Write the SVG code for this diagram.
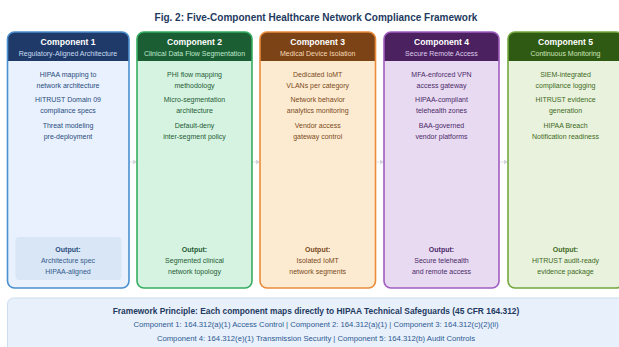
<svg xmlns="http://www.w3.org/2000/svg" width="619" height="347" viewBox="0 0 619 347">
  <defs>
    <marker id="arrow" markerWidth="6" markerHeight="6" refX="4" refY="2.5" orient="auto" markerUnits="userSpaceOnUse">
      <path d="M0,0 L4,2.5 L0,5 Z" fill="#d3d6db"/>
    </marker>
    <style>
      text { font-family: "Liberation Sans", Arial, sans-serif; text-anchor: middle; }
      .title { font-size: 10px; font-weight: bold; fill: #1e3a5f; }
      .hd { font-size: 8.6px; font-weight: bold; fill: #ffffff; }
      .sub { font-size: 7px; }
      .body { font-size: 7px; }
      .out { font-size: 7px; font-weight: bold; }
      .frame { stroke-width: 1.6; }
      .conn { stroke: #e2e4e8; stroke-width: 1; fill: none; marker-end: url(#arrow); }
      .ptitle { font-size: 8.4px; font-weight: bold; fill: #1e3a5f; }
      .pline { font-size: 7.7px; fill: #2c5a92; }
    </style>
  </defs>

  <rect width="619" height="347" fill="#ffffff"/>

  <text class="title" x="316" y="21">Fig. 2: Five-Component Healthcare Network Compliance Framework</text>

  <!-- connectors between adjacent components -->
  <g id="connectors">
    <path class="conn" d="M129,162 L137,162"/>
    <path class="conn" d="M252,162 L260,162"/>
    <path class="conn" d="M375.5,162 L384,162"/>
    <path class="conn" d="M499,162 L508,162"/>
  </g>

  <!-- Component 1 -->
  <g id="component1">
    <rect x="7.5" y="32" width="121.5" height="256" rx="7" fill="#e8f1fd"/>
    <path d="M7.5,61 V39 A7,7 0 0 1 14.5,32 H122 A7,7 0 0 1 129,39 V61 Z" fill="#1f3a68"/>
    <rect class="frame" x="7.5" y="32" width="121.5" height="256" rx="7" fill="none" stroke="#4a8fd0"/>
    <text class="hd" x="68" y="44.5">Component 1</text>
    <text class="sub" x="68" y="56" fill="#c9daf2">Regulatory-Aligned Architecture</text>
    <g fill="#2b4c7e">
      <text class="body" x="68" y="76.5">HIPAA mapping to</text>
      <text class="body" x="68" y="87.5">network architecture</text>
      <text class="body" x="68" y="102">HITRUST Domain 09</text>
      <text class="body" x="68" y="112.5">compliance specs</text>
      <text class="body" x="68" y="128">Threat modeling</text>
      <text class="body" x="68" y="138.5">pre-deployment</text>
    </g>
    <rect x="15.5" y="237" width="106" height="43" rx="4" fill="#d8e6f6"/>
    <text class="out" x="68" y="251.5" fill="#2b4c7e">Output:</text>
    <text class="body" x="68" y="263" fill="#35598a">Architecture spec</text>
    <text class="body" x="68" y="274" fill="#35598a">HIPAA-aligned</text>
  </g>

  <!-- Component 2 -->
  <g id="component2">
    <rect x="137" y="32" width="115" height="256" rx="7" fill="#d6f3e1"/>
    <path d="M137,61 V39 A7,7 0 0 1 144,32 H245 A7,7 0 0 1 252,39 V61 Z" fill="#1b5e34"/>
    <rect class="frame" x="137" y="32" width="115" height="256" rx="7" fill="none" stroke="#36ad60"/>
    <text class="hd" x="194.5" y="44.5">Component 2</text>
    <text class="sub" x="194.5" y="56" fill="#bfe8cc">Clinical Data Flow Segmentation</text>
    <g fill="#1f5c36">
      <text class="body" x="194.5" y="76.5">PHI flow mapping</text>
      <text class="body" x="194.5" y="87.5">methodology</text>
      <text class="body" x="194.5" y="102">Micro-segmentation</text>
      <text class="body" x="194.5" y="112.5">architecture</text>
      <text class="body" x="194.5" y="128">Default-deny</text>
      <text class="body" x="194.5" y="138.5">inter-segment policy</text>
      <text class="out" x="194.5" y="251.5">Output:</text>
      <text class="body" x="194.5" y="263">Segmented clinical</text>
      <text class="body" x="194.5" y="274">network topology</text>
    </g>
  </g>

  <!-- Component 3 -->
  <g id="component3">
    <rect x="260" y="32" width="115.5" height="256" rx="7" fill="#fdebd1"/>
    <path d="M260,61 V39 A7,7 0 0 1 267,32 H368.5 A7,7 0 0 1 375.5,39 V61 Z" fill="#7b4316"/>
    <rect class="frame" x="260" y="32" width="115.5" height="256" rx="7" fill="none" stroke="#ea8c3c"/>
    <text class="hd" x="317.7" y="44.5">Component 3</text>
    <text class="sub" x="317.7" y="56" fill="#f5d9b6">Medical Device Isolation</text>
    <g fill="#7a4a1c">
      <text class="body" x="317.7" y="76.5">Dedicated IoMT</text>
      <text class="body" x="317.7" y="87.5">VLANs per category</text>
      <text class="body" x="317.7" y="102">Network behavior</text>
      <text class="body" x="317.7" y="112.5">analytics monitoring</text>
      <text class="body" x="317.7" y="128">Vendor access</text>
      <text class="body" x="317.7" y="138.5">gateway control</text>
      <text class="out" x="317.7" y="251.5">Output:</text>
      <text class="body" x="317.7" y="263">Isolated IoMT</text>
      <text class="body" x="317.7" y="274">network segments</text>
    </g>
  </g>

  <!-- Component 4 -->
  <g id="component4">
    <rect x="384" y="32" width="115" height="256" rx="7" fill="#e8daf0"/>
    <path d="M384,61 V39 A7,7 0 0 1 391,32 H492 A7,7 0 0 1 499,39 V61 Z" fill="#4b2160"/>
    <rect class="frame" x="384" y="32" width="115" height="256" rx="7" fill="none" stroke="#a05cc0"/>
    <text class="hd" x="441.5" y="44.5">Component 4</text>
    <text class="sub" x="441.5" y="56" fill="#dccaea">Secure Remote Access</text>
    <g fill="#4b2a6b">
      <text class="body" x="441.5" y="76.5">MFA-enforced VPN</text>
      <text class="body" x="441.5" y="87.5">access gateway</text>
      <text class="body" x="441.5" y="102">HIPAA-compliant</text>
      <text class="body" x="441.5" y="112.5">telehealth zones</text>
      <text class="body" x="441.5" y="128">BAA-governed</text>
      <text class="body" x="441.5" y="138.5">vendor platforms</text>
      <text class="out" x="441.5" y="251.5">Output:</text>
      <text class="body" x="441.5" y="263">Secure telehealth</text>
      <text class="body" x="441.5" y="274">and remote access</text>
    </g>
  </g>

  <!-- Component 5 -->
  <g id="component5">
    <rect x="508" y="32" width="115" height="256" rx="7" fill="#e9f2dd"/>
    <path d="M508,61 V39 A7,7 0 0 1 515,32 H616 A7,7 0 0 1 623,39 V61 Z" fill="#2e5a13"/>
    <rect class="frame" x="508" y="32" width="115" height="256" rx="7" fill="none" stroke="#72a83e"/>
    <text class="hd" x="565.5" y="44.5">Component 5</text>
    <text class="sub" x="565.5" y="56" fill="#cfe5ba">Continuous Monitoring</text>
    <g fill="#3e6a24">
      <text class="body" x="565.5" y="76.5">SIEM-integrated</text>
      <text class="body" x="565.5" y="87.5">compliance logging</text>
      <text class="body" x="565.5" y="102">HITRUST evidence</text>
      <text class="body" x="565.5" y="112.5">generation</text>
      <text class="body" x="565.5" y="128">HIPAA Breach</text>
      <text class="body" x="565.5" y="138.5">Notification readiness</text>
      <text class="out" x="565.5" y="251.5">Output:</text>
      <text class="body" x="565.5" y="263">HITRUST audit-ready</text>
      <text class="body" x="565.5" y="274">evidence package</text>
    </g>
  </g>

  <!-- Framework principle panel -->
  <g id="principle">
    <rect x="7.5" y="298" width="617" height="56" rx="6" fill="#e8f0fb" stroke="#cddcf0" stroke-width="1"/>
    <text class="ptitle" x="316" y="313.5">Framework Principle: Each component maps directly to HIPAA Technical Safeguards (45 CFR 164.312)</text>
    <text class="pline" x="316" y="327">Component 1: 164.312(a)(1) Access Control | Component 2: 164.312(a)(1) | Component 3: 164.312(c)(2)(ii)</text>
    <text class="pline" x="316" y="341">Component 4: 164.312(e)(1) Transmission Security | Component 5: 164.312(b) Audit Controls</text>
  </g>
</svg>
